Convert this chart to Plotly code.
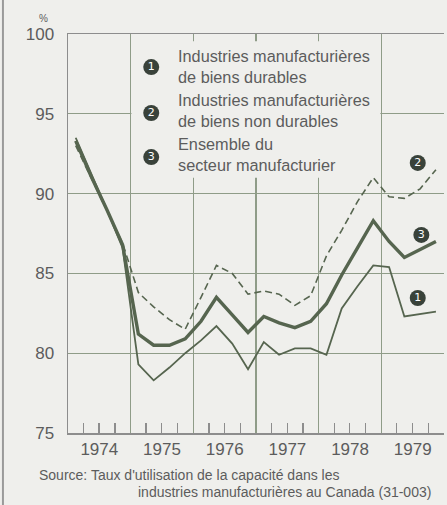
import plotly.graph_objects as go

# ---- data (quarterly, 1974Q1 .. 1979Q4) ----
years = [1974, 1975, 1976, 1977, 1978, 1979]
quarter_dates = ["02-15", "05-15", "08-15", "11-15"]

durables = [93.5, 91.3, 89.0, 86.6,
            79.3, 78.3, 79.1, 80.0,
            80.8, 81.7, 80.6, 79.0,
            80.7, 79.9, 80.3, 80.3,
            79.9, 82.8, 84.2, 85.5,
            85.4, 82.3, 82.45, 82.6]
non_durables = [93.0, 91.0, 88.9, 86.9,
                83.8, 82.9, 82.1, 81.5,
                83.5, 85.5, 85.0, 83.7,
                83.9, 83.7, 83.0, 83.6,
                86.1, 87.7, 89.5, 91.0,
                89.8, 89.7, 90.3, 91.5]
total = [93.3, 91.1, 89.0, 86.8,
         81.2, 80.5, 80.5, 80.9,
         82.0, 83.5, 82.4, 81.3,
         82.3, 81.9, 81.6, 82.0,
         83.1, 84.9, 86.6, 88.3,
         87.0, 86.0, 86.5, 87.0]

legend_labels = ["Industries manufacturières<br>de biens durables",
                 "Industries manufacturières<br>de biens non durables",
                 "Ensemble du<br>secteur manufacturier"]
y_ticks = [75, 80, 85, 90, 95, 100]

x = [f"{y}-{q}" for y in years for q in quarter_dates]

BG = "#efefec"
LINE = "#56654f"
GRID = "#8f9c88"
TEXT = "#5c5c5c"
DARK = "#39423a"
FONT = "Liberation Sans, Arial, sans-serif"

fig = go.Figure()
fig.add_trace(go.Scatter(x=x, y=durables, mode="lines",
                         line=dict(color=LINE, width=1.8), hoverinfo="skip"))
fig.add_trace(go.Scatter(x=x, y=non_durables, mode="lines",
                         line=dict(color=LINE, width=1.6, dash="7px,4px"), hoverinfo="skip"))
fig.add_trace(go.Scatter(x=x, y=total, mode="lines",
                         line=dict(color=LINE, width=3.4), hoverinfo="skip"))

# circled numbers (legend and line labels)
num_x = ["1975-05-01"] * 3 + ["1979-08-01", "1979-08-01", "1979-08-22"]
num_y = [97.93, 95.05, 92.29, 83.46, 91.92, 87.41]
num_t = ["1", "2", "3", "1", "2", "3"]
fig.add_trace(go.Scatter(x=num_x, y=num_y, mode="markers+text", text=num_t,
                         textposition="middle center",
                         textfont=dict(color="white", size=11, family="DejaVu Sans, sans-serif"),
                         marker=dict(size=16, color=DARK), hoverinfo="skip"))

# legend texts
for i, ty in enumerate([97.98, 95.2, 92.45]):
    fig.add_annotation(x="1975-09-20", y=ty, text=legend_labels[i], showarrow=False,
                       xanchor="left", yanchor="middle", align="left",
                       font=dict(size=16.3, color=TEXT, family=FONT))

# legend area covers interior gridlines
fig.add_shape(type="rect", xref="x", yref="y", x0="1975-01-06", x1="1978-12-26",
              y0=91.0, y1=99.55, fillcolor=BG, line=dict(width=0), layer="between")

# page border on the left
fig.add_shape(type="line", xref="paper", yref="paper", x0=-0.173, x1=-0.173,
              y0=-0.2, y1=1.1, line=dict(color="#9a9a9a", width=2))

fig.add_annotation(xref="paper", yref="paper", x=-0.082, y=1.058, text="%",
                   showarrow=False, font=dict(size=10, color=TEXT, family=FONT))
fig.add_annotation(xref="paper", yref="paper", x=-0.083, y=-0.105, xanchor="left",
                   yanchor="middle", text="Source: Taux d'utilisation de la capacité dans les",
                   showarrow=False, font=dict(size=14, color=TEXT, family=FONT))
fig.add_annotation(xref="paper", yref="paper", x=0.182, y=-0.147, xanchor="left",
                   yanchor="middle", text="industries manufacturières au Canada (31-003)",
                   showarrow=False, font=dict(size=14, color=TEXT, family=FONT))

fig.update_layout(
    width=447, height=505, margin=dict(l=68, r=3, t=34, b=72),
    paper_bgcolor=BG, plot_bgcolor=BG, showlegend=False,
    font=dict(family=FONT, color=TEXT),
)
fig.update_xaxes(
    type="date", range=["1974-01-01", "1980-01-01"],
    tick0="1974-01-01", dtick="M12", tickformat="%Y", ticklabelmode="period",
    showgrid=True, gridcolor=GRID, gridwidth=1.3,
    ticks="", showline=True, linecolor="#8d8d8d", linewidth=1.5, mirror=True,
    tickfont=dict(size=17, color=TEXT),
    minor=dict(dtick="M3", tick0="1974-01-01", ticks="inside", ticklen=10,
               tickcolor="#8d8d8d", tickwidth=1.3, showgrid=False),
    zeroline=False, fixedrange=True,
)
fig.update_yaxes(
    range=[75, 100], tickvals=y_ticks, showgrid=True, gridcolor=GRID, gridwidth=1.3,
    showline=True, linecolor="#8d8d8d", linewidth=1.5, ticks="",
    ticklabelstandoff=9, tickfont=dict(size=17, color=TEXT), zeroline=False,
    fixedrange=True,
)

# remove the default page margin so the figure fills the window from its corner
fig.write_html("out.html",
               config={"displayModeBar": False, "staticPlot": True},
               post_script="document.body.style.margin='0px';"
                           "document.body.style.overflow='hidden';")
